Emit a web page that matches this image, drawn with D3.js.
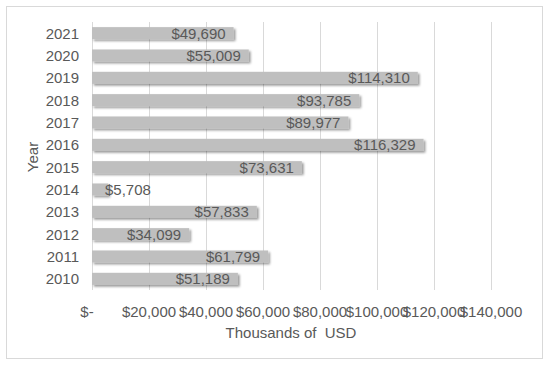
<!DOCTYPE html>
<html>
<head>
<meta charset="utf-8">
<script src="https://cdn.jsdelivr.net/npm/d3@7"></script>
<style>
  body { margin: 0; background: #fff; }
  text { font-family: "Liberation Sans", Arial, sans-serif; fill: #595959; }
</style>
</head>
<body>
<div id="chart"></div>
<script>
const years = ["2010", "2011", "2012", "2013", "2014", "2015", "2016", "2017", "2018", "2019", "2020", "2021"];
const amounts = [51189, 61799, 34099, 57833, 5708, 73631, 116329, 89977, 93785, 114310, 55009, 49690];
const xTicks = [0, 20000, 40000, 60000, 80000, 100000, 120000, 140000];

const width = 550, height = 365;
const margin = { top: 22, right: 59, bottom: 75, left: 92 };
const fontSize = 15;

const svg = d3.select("#chart").append("svg")
    .attr("width", width)
    .attr("height", height);

const defs = svg.append("defs");
const shadow = defs.append("filter").attr("id", "shadow")
    .attr("x", "-10%").attr("y", "-50%").attr("width", "130%").attr("height", "220%");
shadow.append("feDropShadow")
    .attr("dx", 1.8).attr("dy", 1.8).attr("stdDeviation", 1.2)
    .attr("flood-color", "#000").attr("flood-opacity", 0.4);

// outer border
svg.append("rect")
    .attr("x", 6.5).attr("y", 6.5)
    .attr("width", 536).attr("height", 352)
    .attr("fill", "none").attr("stroke", "#d9d9d9");

const x = d3.scaleLinear()
    .domain([0, 140000])
    .range([margin.left, width - margin.right]);

const y = d3.scaleBand()
    .domain(years.slice().reverse())
    .range([margin.top, height - margin.bottom])
    .paddingInner(0.46)
    .paddingOuter(0.23);

// gridlines
svg.append("g").selectAll("line")
    .data(xTicks)
    .enter().append("line")
    .attr("x1", d => Math.round(x(d)) + 0.5)
    .attr("x2", d => Math.round(x(d)) + 0.5)
    .attr("y1", margin.top)
    .attr("y2", height - margin.bottom)
    .attr("stroke", "#d9d9d9");

// x tick labels
const fmt = d3.format(",");
svg.append("g").selectAll("text")
    .data(xTicks)
    .enter().append("text")
    .attr("x", d => d === 0 ? x(d) - 5 : x(d))
    .attr("y", 317)
    .attr("text-anchor", "middle")
    .attr("font-size", fontSize)
    .text(d => d === 0 ? "$-" : "$" + fmt(d));

// y labels
svg.append("g").selectAll("text")
    .data(years)
    .enter().append("text")
    .attr("x", 79)
    .attr("y", d => y(d) + y.bandwidth() / 2 + 5.5)
    .attr("text-anchor", "end")
    .attr("font-size", fontSize)
    .text(d => d);

// bars
svg.append("g").selectAll("rect")
    .data(years)
    .enter().append("rect")
    .attr("x", x(0))
    .attr("y", d => y(d))
    .attr("width", (d, i) => x(amounts[i]) - x(0))
    .attr("height", y.bandwidth())
    .attr("fill", "#bfbfbf")
    .attr("filter", "url(#shadow)");

// value labels
const small = i => (x(amounts[i]) - x(0)) < 60;
svg.append("g").selectAll("text")
    .data(years)
    .enter().append("text")
    .attr("x", (d, i) => small(i) ? x(0) + 13 : x(amounts[i]) - 8)
    .attr("y", d => y(d) + y.bandwidth() / 2 + 5.5)
    .attr("text-anchor", (d, i) => small(i) ? "start" : "end")
    .attr("font-size", fontSize)
    .text((d, i) => "$" + fmt(amounts[i]));

// axis titles
svg.append("text")
    .attr("x", 291)
    .attr("y", 338)
    .attr("text-anchor", "middle")
    .attr("font-size", fontSize)
    .style("white-space", "pre")
    .text("Thousands of  USD");

svg.append("text")
    .attr("transform", "translate(38,157) rotate(-90)")
    .attr("text-anchor", "middle")
    .attr("font-size", fontSize)
    .text("Year");
</script>
</body>
</html>
